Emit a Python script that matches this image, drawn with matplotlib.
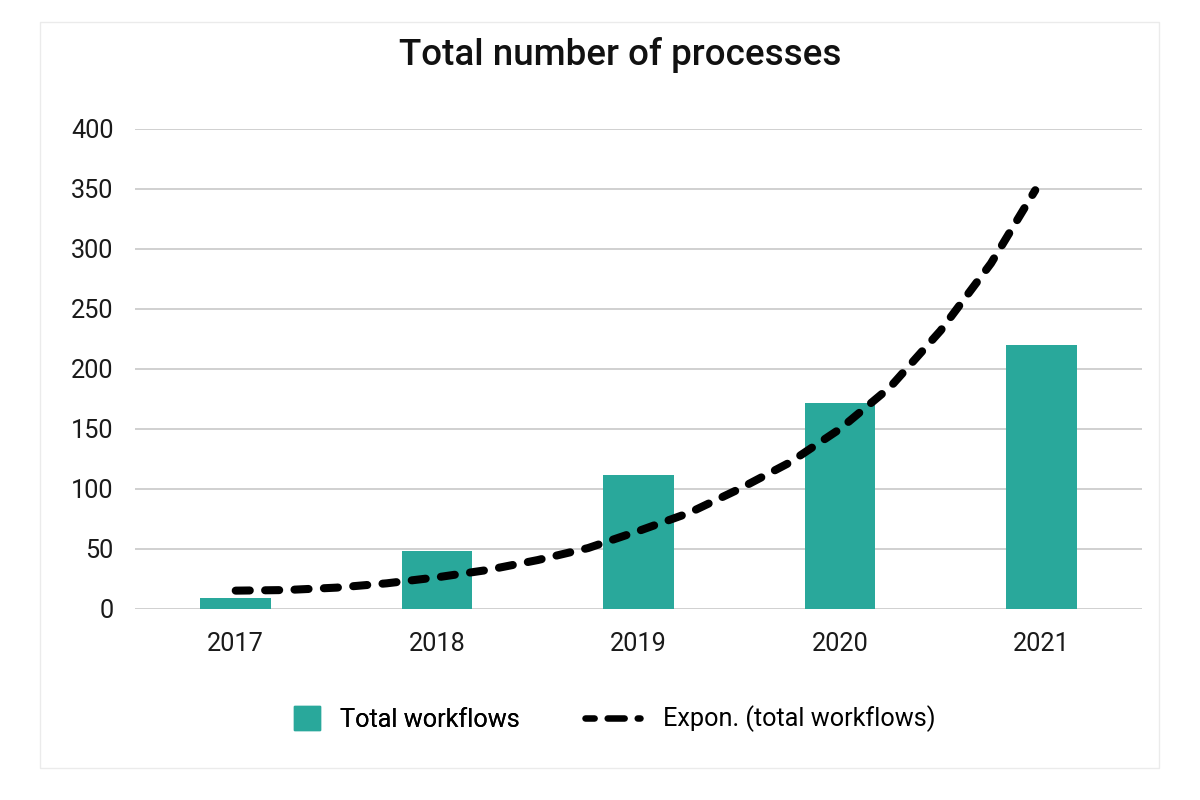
import matplotlib
matplotlib.use("Agg")
import matplotlib.pyplot as plt
from matplotlib.patches import Rectangle, Patch
from matplotlib.lines import Line2D

plt.rcParams['font.family'] = ['Roboto', 'DejaVu Sans']

# data
years = ['2017', '2018', '2019', '2020', '2021']
workflows = [9, 48.5, 111.5, 171.5, 220]

# exponential trendline, read at quarter-year steps (0 = 2017)
trend_x = [0, 0.25, 0.5, 0.75, 1, 1.25, 1.5, 1.75, 2,
           2.25, 2.5, 2.75, 3, 3.25, 3.5, 3.75, 3.97]
trend_y = [15.3, 15.8, 17.8, 21.4, 26.4, 32.5, 40.8, 50.8, 65,
           80, 100, 122, 150, 185, 232, 288, 349]

y_ticks = [0, 50, 100, 150, 200, 250, 300, 350, 400]

bar_color = '#29a89b'
W, H = 1200, 800
fs = 18.2

fig = plt.figure(figsize=(12, 8), dpi=100)
ax = fig.add_axes([135 / W, 1 - 609 / H, (1142 - 135) / W, (609 - 129) / H])

x = list(range(len(years)))
ax.bar(x, workflows, width=0.35, color=bar_color, zorder=2)
ax.plot(trend_x, trend_y, color='black', lw=5.8,
        linestyle=(0, (1.75, 1.9)), dash_capstyle='round', zorder=3)

ax.set_xlim(-0.5, 4.5)
ax.set_ylim(0, 400)
ax.set_yticks(y_ticks)
ax.set_xticks(x)
ax.set_xticklabels(years)
ax.grid(axis='y', color='#c4c4c4', lw=1.1, zorder=0)
ax.set_axisbelow(True)
for s in ax.spines.values():
    s.set_visible(False)
ax.tick_params(axis='both', length=0, labelsize=fs, colors='#1a1a1a')
ax.tick_params(axis='y', pad=15.5)
ax.tick_params(axis='x', pad=16.5)

fig.text(620 / W, 1 - 55 / H, 'Total number of processes', ha='center',
         va='center', fontsize=26.5, fontweight='medium', color='#111111')

# legend, two entries placed separately
leg1 = fig.legend(handles=[Patch(color=bar_color)], labels=['Total workflows'],
                  loc='center left', bbox_to_anchor=(294 / W, 1 - 719 / H),
                  frameon=False, fontsize=fs, handlelength=1.03,
                  handleheight=1.03, handletextpad=0.79, borderpad=0,
                  borderaxespad=0)
fig.add_artist(leg1)
fig.legend(handles=[Line2D([0], [0], color='black', lw=4.7,
                           linestyle=(1.2, (2.6, 2.0)), dash_capstyle='round')],
           labels=['Expon. (total workflows)'],
           loc='center left', bbox_to_anchor=(585 / W, 1 - 719 / H),
           frameon=False, fontsize=fs, handlelength=2.17,
           handletextpad=0.9, borderpad=0, borderaxespad=0)

# light frame around the chart
fig.patches.append(Rectangle((40 / W, 1 - 768 / H), 1119 / W, 746 / H,
                             transform=fig.transFigure, fill=False,
                             edgecolor='#ebebeb', lw=1))

fig.savefig('out.png', dpi=100, facecolor='white')
